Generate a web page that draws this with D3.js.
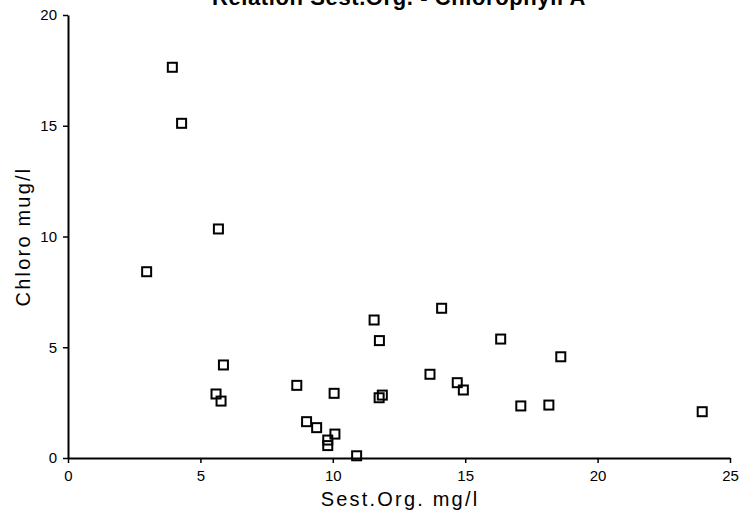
<!DOCTYPE html>
<html>
<head>
<meta charset="utf-8">
<script src="https://cdn.jsdelivr.net/npm/d3@7"></script>
<style>
  html, body { margin: 0; padding: 0; background: #fff; }
  svg { display: block; }
  text { font-family: "Liberation Sans", Arial, sans-serif; fill: #000; }
</style>
</head>
<body>
<svg id="chart" width="746" height="524"></svg>
<script>
// Organic seston (mg/l) against chlorophyll (mug/l), one square per sample
const sestOrg = [2.97, 3.94, 4.29, 5.68, 5.87, 5.59, 5.78,
                 14.11, 11.56, 11.76, 13.67, 8.64, 10.05, 11.75, 11.87,
                 9.01, 9.39, 10.08, 9.81, 9.81, 10.90,
                 16.34, 18.61, 14.70, 14.93, 17.10, 18.16, 23.95];
const chloro  = [8.41, 17.64, 15.11, 10.34, 4.20, 2.89, 2.57,
                 6.76, 6.23, 5.30, 3.78, 3.28, 2.92, 2.72, 2.84,
                 1.64, 1.37, 1.08, 0.81, 0.56, 0.10,
                 5.37, 4.57, 3.40, 3.07, 2.35, 2.39, 2.09];
const xTicks = [0, 5, 10, 15, 20, 25];
const yTicks = [0, 5, 10, 15, 20];
const titleText = "Relation Sest.Org. - Chlorophyll A";
const xTitle = "Sest.Org. mg/l";
const yTitle = "Chloro mug/l";

const svg = d3.select("#chart");
const plot = { left: 68, right: 730, top: 15, bottom: 458 };

const x = d3.scaleLinear().domain([0, 25]).range([plot.left, plot.right]);
const y = d3.scaleLinear().domain([0, 20]).range([plot.bottom, plot.top]);

// Title, running along the top edge of the page
svg.append("text")
  .attr("x", (plot.left + plot.right) / 2)
  .attr("y", 5)
  .attr("text-anchor", "middle")
  .attr("font-size", 22)
  .attr("font-weight", "bold")
  .attr("letter-spacing", 0.6)
  .text(titleText);

// Axes
const xAxis = d3.axisBottom(x).tickValues(xTicks).tickFormat(d3.format("d"))
  .tickSize(5).tickSizeOuter(0).tickPadding(7);
const yAxis = d3.axisLeft(y).tickValues(yTicks).tickFormat(d3.format("d"))
  .tickSize(5).tickSizeOuter(0).tickPadding(6);

const gx = svg.append("g").attr("transform", `translate(0,${plot.bottom})`).call(xAxis);
const gy = svg.append("g").attr("transform", `translate(${plot.left},0)`).call(yAxis);

[gx, gy].forEach(g => {
  g.select(".domain").attr("stroke", "#000").attr("stroke-width", 2);
  g.selectAll(".tick line").attr("stroke", "#000").attr("stroke-width", 1.5);
  g.selectAll(".tick text").attr("font-size", 15).attr("fill", "#000")
    .attr("font-family", "'Liberation Sans', Arial, sans-serif");
});

// Axis titles
svg.append("text")
  .attr("x", (plot.left + plot.right) / 2 + 1)
  .attr("y", 506)
  .attr("text-anchor", "middle")
  .attr("font-size", 20)
  .attr("letter-spacing", 2.2)
  .text(xTitle);

svg.append("text")
  .attr("transform", `translate(30,${(plot.top + plot.bottom) / 2}) rotate(-90)`)
  .attr("text-anchor", "middle")
  .attr("font-size", 20)
  .attr("letter-spacing", 2.2)
  .text(yTitle);

// Square markers
const s = 9;
svg.append("g")
  .selectAll("rect")
  .data(d3.zip(sestOrg, chloro))
  .join("rect")
  .attr("x", d => x(d[0]) - s / 2)
  .attr("y", d => y(d[1]) - s / 2)
  .attr("width", s)
  .attr("height", s)
  .attr("fill", "none")
  .attr("stroke", "#000")
  .attr("stroke-width", 2);
</script>
</body>
</html>
